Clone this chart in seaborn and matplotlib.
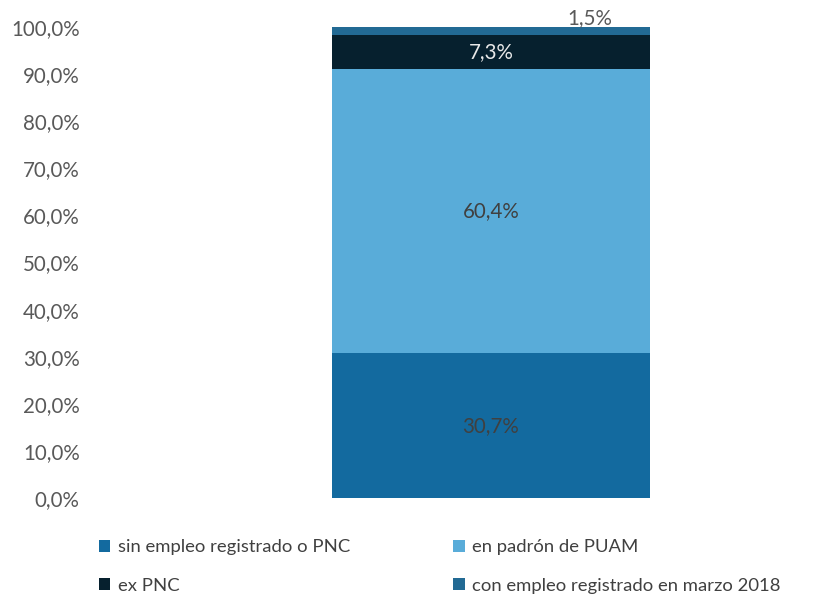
import numpy as np
import matplotlib.pyplot as plt
import seaborn as sns
from matplotlib.patches import Patch

# Datos
categorias = ["sin empleo registrado o PNC", "en padrón de PUAM", "ex PNC",
              "con empleo registrado en marzo 2018"]
valores = [30.7, 60.4, 7.3, 1.5]
colores = ["#136a9f", "#59acd9", "#06202e", "#226a94"]
etiquetas = ["30,7%", "60,4%", "7,3%", "1,5%"]
colores_txt = ["#404040", "#404040", "#e8e8e8", "#595959"]

sns.set_theme(style="white")
plt.rcParams["font.family"] = ["Lato", "DejaVu Sans"]

fig = plt.figure(figsize=(8.19, 5.99), dpi=100)
ax = fig.add_axes([88/819, 1 - 498/599, (810 - 88)/819, (498 - 27)/599])

abajo = 0.0
for cat, val, col, lab, tc in zip(categorias, valores, colores, etiquetas, colores_txt):
    sns.barplot(x=[0], y=[val], bottom=abajo, color=col, width=1.0,
                saturation=1, linewidth=0, ax=ax, native_scale=True)
    if cat == categorias[-1]:
        ax.text(0.31, abajo + val + 2.0, lab, ha="center", va="center",
                fontsize=14.8, color=tc, clip_on=False)
    else:
        ax.text(0, abajo + val / 2, lab, ha="center", va="center",
                fontsize=14.8, color=tc)
    abajo += val

ax.set_xlim(-1.267, 1.003)
ax.set_ylim(0, 100)
ax.set_yticks(np.arange(0, 101, 10))
ax.set_yticklabels([f"{v},0%" for v in range(0, 101, 10)], fontsize=14.8, color="#595959")
ax.set_xticks([])
ax.set_xlabel("")
ax.set_ylabel("")
ax.tick_params(axis="y", length=0, pad=6)
sns.despine(ax=ax, left=True, bottom=True)

orden = [0, 2, 1, 3]
handles = [Patch(facecolor=colores[i], edgecolor="none") for i in orden]
labels = [categorias[i] for i in orden]
fig.legend(handles, labels, ncol=2, loc="upper left", bbox_to_anchor=(0.11, 0.115),
           frameon=False, fontsize=13.3, labelcolor="#404040",
           handlelength=0.6, handleheight=0.6, handletextpad=0.4,
           columnspacing=5.6, labelspacing=1.2, borderpad=0)

fig.savefig("out.png", dpi=100)
